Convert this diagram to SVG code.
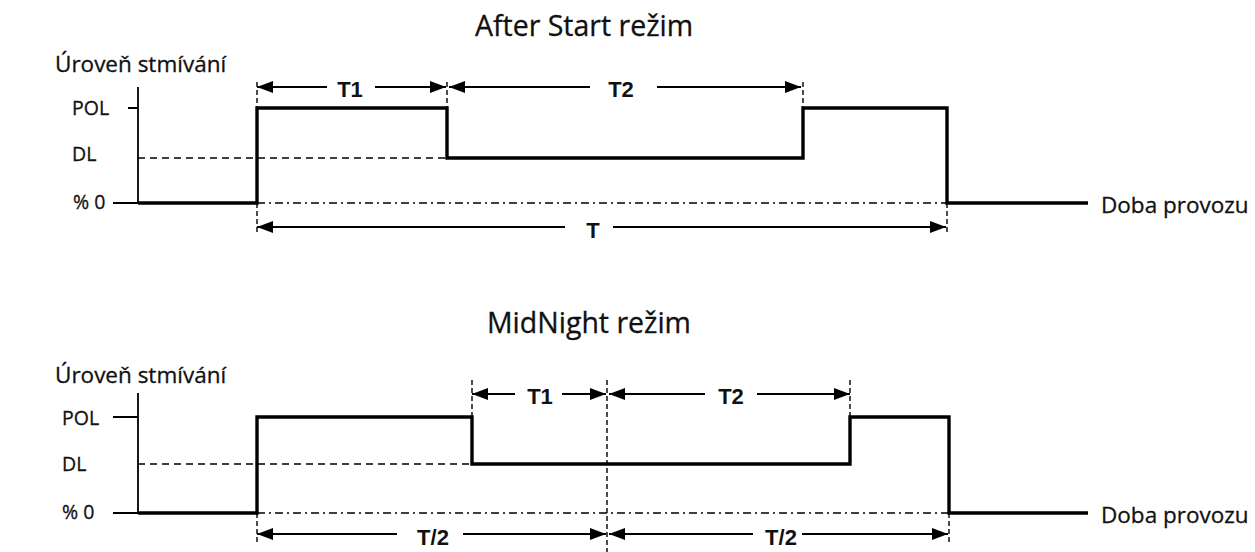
<svg xmlns="http://www.w3.org/2000/svg" width="1255" height="552" viewBox="0 0 1255 552">
<defs>
<marker id="ah" markerUnits="userSpaceOnUse" markerWidth="16" markerHeight="12" refX="16" refY="6" orient="auto-start-reverse"><path d="M0,0 L16,6 L0,12 z" fill="#000"/></marker>
</defs>
<style>
.title{font-family:"Open Sans","Noto Sans",sans-serif;font-size:28.5px;fill:#111;stroke:#111;stroke-width:0.3}
.lbl{font-family:"Open Sans","Noto Sans",sans-serif;font-size:22.5px;fill:#111;stroke:#111;stroke-width:0.3}
.tk{font-family:"Open Sans","Noto Sans",sans-serif;font-size:19.5px;fill:#111;stroke:#111;stroke-width:0.3}
.dim{font-family:"Liberation Sans",Arial,sans-serif;font-size:22px;font-weight:bold;fill:#111}
.axis{stroke:#000;stroke-width:1.8;fill:none}
.wave{stroke:#000;stroke-width:3.4;fill:none;stroke-linejoin:miter}
.dash{stroke:#000;stroke-width:1.4;stroke-dasharray:7,5;fill:none}
.dashdot{stroke:#000;stroke-width:1.4;stroke-dasharray:8,4,2,4;fill:none}
.ext{stroke:#000;stroke-width:1.4;stroke-dasharray:5,3;fill:none}
.arr{stroke:#000;stroke-width:1.8;fill:none}
</style>
<rect width="1255" height="552" fill="#fff"/>

<g id="chart-after-start">
<text class="title" x="584" y="36" text-anchor="middle">After Start režim</text>
<text class="lbl" x="55" y="72">Úroveň stmívání</text>
<text class="tk" x="72" y="115">POL</text>
<text class="tk" x="72" y="161">DL</text>
<text class="tk" x="73" y="209">% 0</text>
<path class="axis" d="M138,87 V203 M128,108 H138 M113,203 H138"/>
<path class="dash" d="M138,158 H445"/>
<path class="dashdot" d="M257,203 H947"/>
<path class="wave" d="M138,203 H257 V108 H447 V158 H803 V108 H947 V203 H1088"/>
<text class="lbl" x="1101" y="213">Doba provozu</text>
</g>

<g id="chart-midnight">
<text class="title" x="589" y="333" text-anchor="middle">MidNight režim</text>
<text class="lbl" x="55" y="383">Úroveň stmívání</text>
<text class="tk" x="62" y="425">POL</text>
<text class="tk" x="62" y="471">DL</text>
<text class="tk" x="62" y="519">% 0</text>
<path class="axis" d="M138,393 V513 M113,417 H138 M113,513 H138"/>
<path class="dash" d="M138,464 H472"/>
<path class="dashdot" d="M257,513 H949"/>
<path class="wave" d="M138,513 H257 V417 H472 V464 H850 V417 H949 V513 H1088"/>
<text class="lbl" x="1101" y="523">Doba provozu</text>
</g>

<g id="connectors">
<path class="ext" d="M257,82 V108 M257,203 V234 M447,82 V108 M803,82 V108 M947,203 V234"/>
<path class="arr" d="M327,87 H257" marker-end="url(#ah)"/>
<path class="arr" d="M375,87 H446" marker-end="url(#ah)"/>
<text class="dim" x="350" y="97" text-anchor="middle">T1</text>
<path class="arr" d="M590,87 H449" marker-end="url(#ah)"/>
<path class="arr" d="M657,87 H801" marker-end="url(#ah)"/>
<text class="dim" x="621" y="97" text-anchor="middle">T2</text>
<path class="arr" d="M565,227 H257" marker-end="url(#ah)"/>
<path class="arr" d="M613,227 H946" marker-end="url(#ah)"/>
<text class="dim" x="593" y="238" text-anchor="middle">T</text>

<path class="ext" d="M472,380 V417 M850,380 V417 M257,513 V545 M949,513 V545 M607,380 V552"/>
<path class="arr" d="M515,394 H472" marker-end="url(#ah)"/>
<path class="arr" d="M562,394 H606" marker-end="url(#ah)"/>
<text class="dim" x="540" y="404" text-anchor="middle">T1</text>
<path class="arr" d="M705,394 H609" marker-end="url(#ah)"/>
<path class="arr" d="M757,394 H850" marker-end="url(#ah)"/>
<text class="dim" x="731" y="404" text-anchor="middle">T2</text>
<path class="arr" d="M397,534 H257" marker-end="url(#ah)"/>
<path class="arr" d="M463,534 H606" marker-end="url(#ah)"/>
<text class="dim" x="433" y="545" text-anchor="middle">T/2</text>
<path class="arr" d="M753,534 H609" marker-end="url(#ah)"/>
<path class="arr" d="M802,534 H948" marker-end="url(#ah)"/>
<text class="dim" x="781" y="545" text-anchor="middle">T/2</text>
</g>
</svg>
